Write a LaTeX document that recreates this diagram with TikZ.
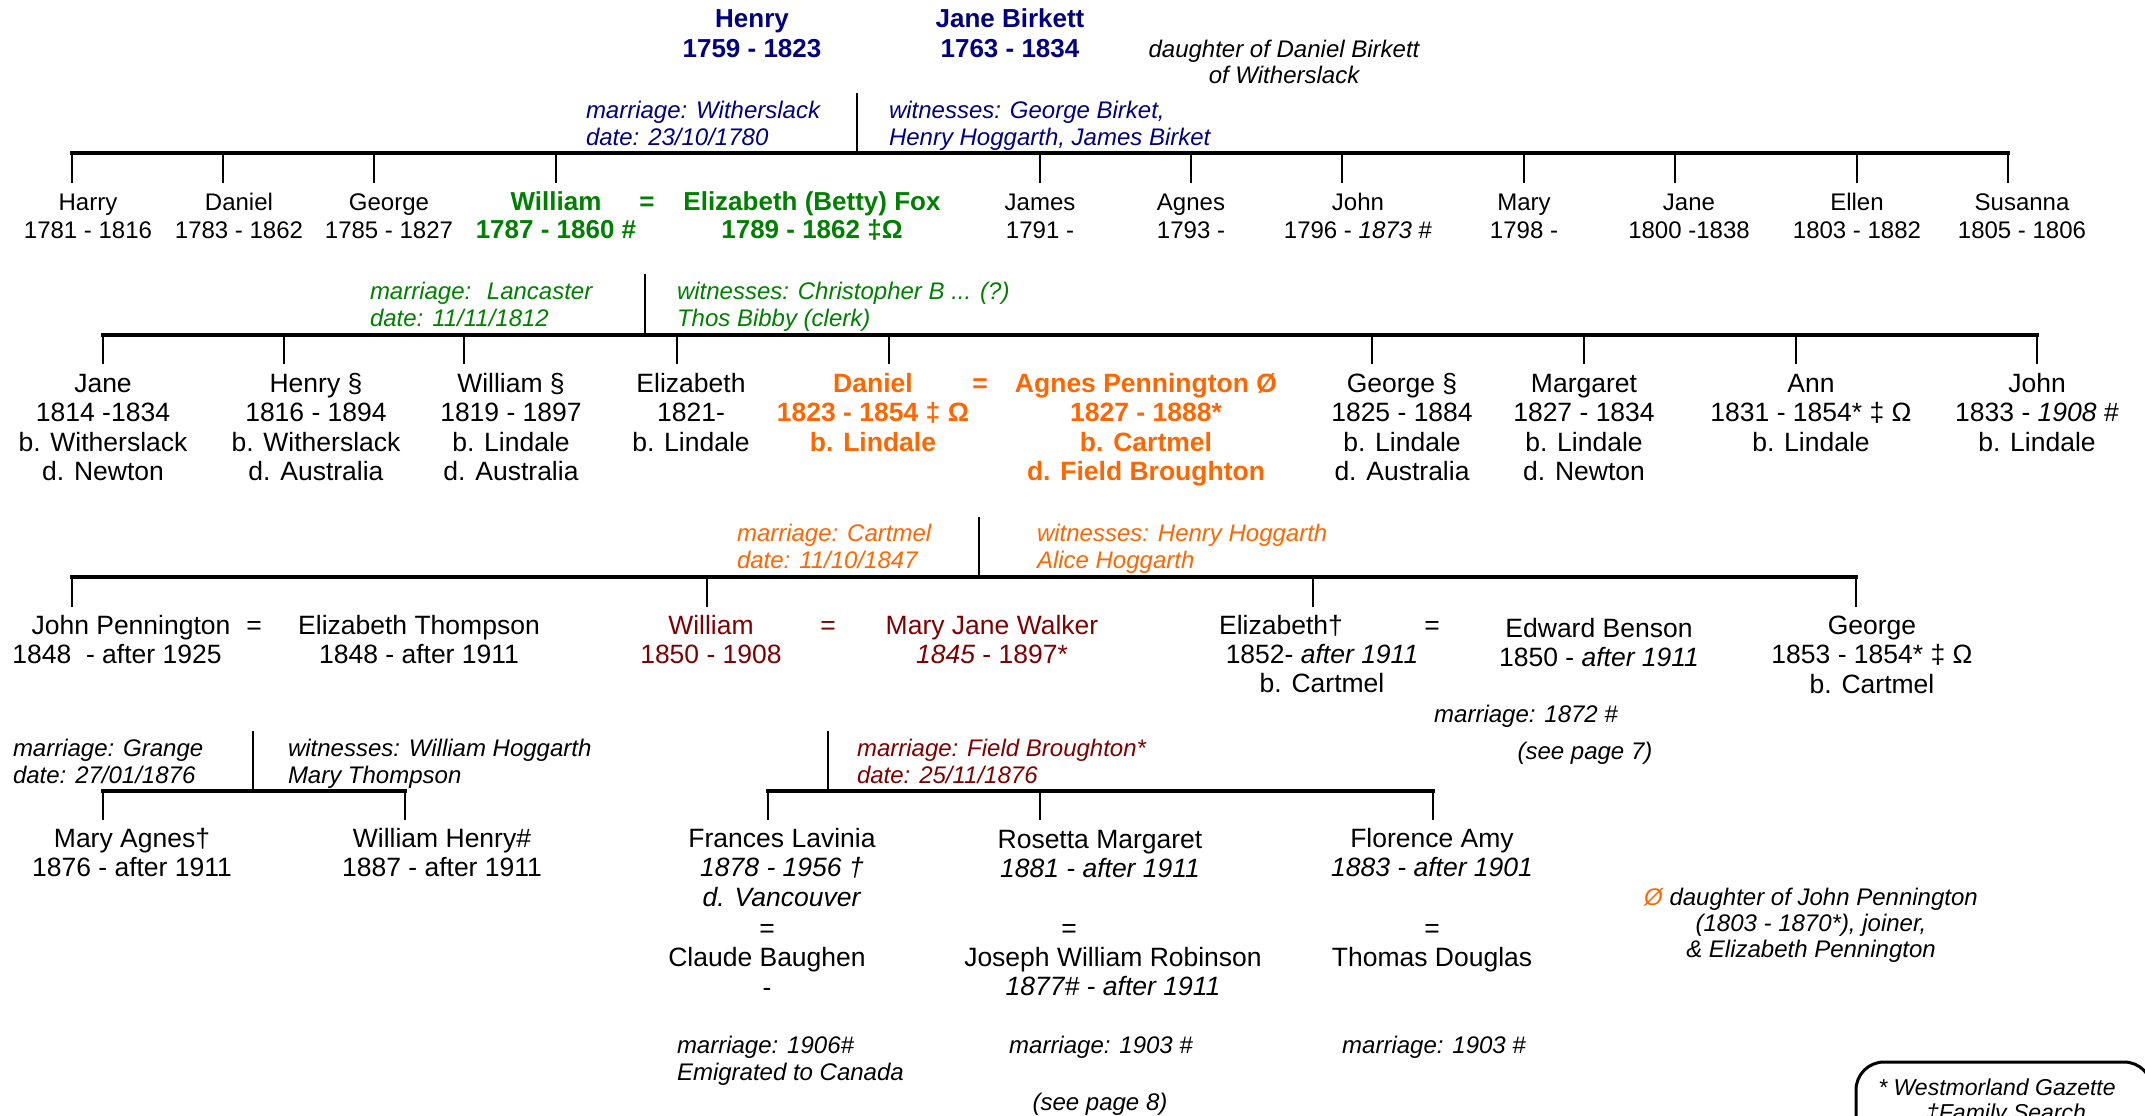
\documentclass[tikz,border=0pt]{standalone}
\usepackage{fontspec}
\setmainfont{Liberation Sans}
\definecolor{navy}{RGB}{0,0,128}
\definecolor{grn}{RGB}{0,128,0}
\definecolor{org}{RGB}{255,102,0}
\definecolor{dred}{RGB}{128,0,0}
\newcommand{\mlc}[1]{\begin{tabular}[t]{@{}c@{}}#1\end{tabular}}
\newcommand{\mll}[1]{\begin{tabular}[t]{@{}l@{}}#1\end{tabular}}
\tikzset{
 every node/.style={inner sep=0pt, outer sep=0pt, anchor=base},
 r0/.style={font=\fontsize{24}{28}\selectfont},
 r0b/.style={font=\fontsize{26}{28}\selectfont\bfseries, text=grn},
 topn/.style={font=\fontsize{26}{30}\selectfont\bfseries, text=navy},
 pr/.style={font=\fontsize{26.5}{29.5}\selectfont},
 prb/.style={font=\fontsize{26.5}{29.5}\selectfont\bfseries, text=org},
 ann/.style={font=\fontsize{24}{27}\selectfont\itshape, anchor=base west},
 annc/.style={font=\fontsize{24}{26}\selectfont\itshape},
 bar/.style={line width=4pt, line cap=rect},
 tick/.style={line width=2.5pt},
}
\begin{document}
\begin{tikzpicture}[x=1pt,y=-1pt]
\useasboundingbox (0,0) rectangle (2145,1116);
\fill[white] (0,0) rectangle (2145,1116);
\clip (0,0) rectangle (2145,1116);

% ---------- generation 0 ----------
\node[topn] (henry) at (752,28) {\mlc{Henry\\1759 - 1823}};
\node[topn] (janeb) at (1010,28) {\mlc{Jane Birkett\\1763 - 1834}};
\node[annc] (dnote) at (1284,58) {\mlc{daughter of Daniel Birkett\\of Witherslack}};
\coordinate (m0top) at (857,93);
\coordinate (m0) at (857,153);
\coordinate (b0l) at (72,153);
\coordinate (b0r) at (2008,153);
\node[ann,text=navy] (m0a) at (586,118) {\mll{marriage: Witherslack\\date: 23/10/1780}};
\node[ann,text=navy] (m0w) at (889,118) {\mll{witnesses: George Birket,\\Henry Hoggarth, James Birket}};
\draw[tick] (m0top) -- (m0);
\draw[bar] (b0l) -- (b0r);
\foreach \x/\n in {72/a,223/b,374/c,556/d,1040/e,1191/f,1342/g,1524/h,1675/i,1857/j,2008/k}{
  \coordinate (t0\n) at (\x,183);
  \draw[tick] (t0\n |- b0l) -- (t0\n);
}
\node[r0] (harry) at (88,210) {\mlc{Harry\\1781 - 1816}};
\node[r0] (daniel0) at (239,210) {\mlc{Daniel\\1783 - 1862}};
\node[r0] (george0) at (389,210) {\mlc{George\\1785 - 1827}};
\node[r0b] (william0) at (556,210) {\mlc{William\\1787 - 1860 \#}};
\node[r0b] (eq0) at (647,210) {=};
\node[r0b] (betty) at (812,210) {\mlc{Elizabeth (Betty) Fox\\1789 - 1862 ‡Ω}};
\node[r0] (james) at (1040,210) {\mlc{James\\1791 -}};
\node[r0] (agnes0) at (1191,210) {\mlc{Agnes\\1793 -}};
\node[r0] (john0) at (1358,210) {\mlc{John\\1796 - \textit{1873} \#}};
\node[r0] (mary0) at (1524,210) {\mlc{Mary\\1798 -}};
\node[r0] (jane0) at (1689,210) {\mlc{Jane\\1800 -1838}};
\node[r0] (ellen) at (1857,210) {\mlc{Ellen\\1803 - 1882}};
\node[r0] (susanna) at (2022,210) {\mlc{Susanna\\1805 - 1806}};

% ---------- generation 1 ----------
\coordinate (m1top) at (645,274);
\coordinate (m1) at (645,335);
\coordinate (b1l) at (103,335);
\coordinate (b1r) at (2037,335);
\node[ann,text=grn] (m1a) at (370,299) {\mll{marriage:~ Lancaster\\date: 11/11/1812}};
\node[ann,text=grn] (m1w) at (677,299) {\mll{witnesses: Christopher B ... (?)\\Thos Bibby (clerk)}};
\draw[tick] (m1top) -- (m1);
\draw[bar] (b1l) -- (b1r);
\foreach \x/\n in {103/a,284/b,464/c,677/d,889/e,1372/f,1584/g,1796/h,2037/i}{
  \coordinate (t1\n) at (\x,364);
  \draw[tick] (t1\n |- b1l) -- (t1\n);
}
\node[pr] (jane1) at (103,392) {\mlc{Jane\\1814 -1834\\b. Witherslack\\d. Newton}};
\node[pr] (henry1) at (316,392) {\mlc{Henry §\\1816 - 1894\\b. Witherslack\\d. Australia}};
\node[pr] (william1) at (511,392) {\mlc{William §\\1819 - 1897\\b. Lindale\\d. Australia}};
\node[pr] (eliz1) at (691,392) {\mlc{Elizabeth\\1821-\\b. Lindale}};
\node[prb] (daniel1) at (873,392) {\mlc{Daniel\\1823 - 1854 ‡ Ω\\b. Lindale}};
\node[prb] (eq1) at (980,392) {=};
\node[prb] (agnesp) at (1146,392) {\mlc{Agnes Pennington Ø\\1827 - 1888*\\b. Cartmel\\d. Field Broughton}};
\node[pr] (george1) at (1402,392) {\mlc{George §\\1825 - 1884\\b. Lindale\\d. Australia}};
\node[pr] (margaret) at (1584,392) {\mlc{Margaret\\1827 - 1834\\b. Lindale\\d. Newton}};
\node[pr] (ann) at (1811,392) {\mlc{Ann\\1831 - 1854* ‡ Ω\\b. Lindale}};
\node[pr] (john1) at (2037,392) {\mlc{John\\1833 - \textit{1908} \#\\b. Lindale}};

% ---------- generation 2 ----------
\coordinate (m2top) at (979,517);
\coordinate (m2) at (979,577);
\coordinate (b2l) at (72,577);
\coordinate (b2r) at (1856,577);
\node[ann,text=org] (m2a) at (737,541) {\mll{marriage: Cartmel\\date: 11/10/1847}};
\node[ann,text=org] (m2w) at (1037,541) {\mll{witnesses: Henry Hoggarth\\Alice Hoggarth}};
\draw[tick] (m2top) -- (m2);
\draw[bar] (b2l) -- (b2r);
\foreach \x/\n in {72/a,707/b,1313/c,1856/d}{
  \coordinate (t2\n) at (\x,607);
  \draw[tick] (t2\n |- b2l) -- (t2\n);
}
\node[pr] (jpa) at (131,634) {John Pennington};
\node[pr] (jpeq) at (254,634) {=};
\node[pr] (jpb) at (117,663) {1848~ - after 1925};
\node[pr] (ethom) at (419,634) {\mlc{Elizabeth Thompson\\1848 - after 1911}};
\node[pr,text=dred] (william2) at (711,634) {\mlc{William\\1850 - 1908}};
\node[pr,text=dred] (eq2) at (828,634) {=};
\node[pr,text=dred] (mjw) at (992,634) {\mlc{Mary Jane Walker\\\textit{1845} - 1897*}};
\node[pr] (eliz2a) at (1281,634) {Elizabeth†};
\node[pr] (eliz2b) at (1322,663) {\mlc{1852- \textit{after 1911}\\b. Cartmel}};
\node[pr] (eq3) at (1432,634) {=};
\node[pr] (benson) at (1599,637) {\mlc{Edward Benson\\1850 - \textit{after 1911}}};
\node[pr] (george2) at (1872,634) {\mlc{George\\1853 - 1854* ‡ Ω\\b. Cartmel}};
\node[annc] (m3a) at (1526,722) {marriage: 1872 \#};
\node[annc] (p7) at (1585,759) {(see page 7)};

% ---------- generation 3, left ----------
\coordinate (m3ltop) at (253,731);
\coordinate (m3l) at (253,791);
\coordinate (b3l) at (103,791);
\coordinate (b3r) at (405,791);
\node[ann] (m3la) at (13,756) {\mll{marriage: Grange\\date: 27/01/1876}};
\node[ann] (m3lw) at (288,756) {\mll{witnesses: William Hoggarth\\Mary Thompson}};
\draw[tick] (m3ltop) -- (m3l);
\draw[bar] (b3l) -- (b3r);
\foreach \x/\n in {103/a,405/b}{
  \coordinate (t3\n) at (\x,820);
  \draw[tick] (t3\n |- b3l) -- (t3\n);
}
\node[pr] (maryagnes) at (132,847) {\mlc{Mary Agnes†\\1876 - after 1911}};
\node[pr] (wh) at (442,847) {\mlc{William Henry\#\\1887 - after 1911}};

% ---------- generation 3, right ----------
\coordinate (m4top) at (828,731);
\coordinate (m4) at (828,791);
\coordinate (b4l) at (768,791);
\coordinate (b4r) at (1433,791);
\node[ann,text=dred] (m4a) at (857,756) {\mll{marriage: Field Broughton*\\date: 25/11/1876}};
\draw[tick] (m4top) -- (m4);
\draw[bar] (b4l) -- (b4r);
\foreach \x/\n in {768/a,1040/b,1433/c}{
  \coordinate (t4\n) at (\x,820);
  \draw[tick] (t4\n |- b4l) -- (t4\n);
}
\node[pr] (frances) at (782,847) {\mlc{Frances Lavinia\\\textit{1878 - 1956 †}\\\textit{d. Vancouver}}};
\node[pr] (claude) at (767,937) {\mlc{=\\Claude Baughen\\-}};
\node[ann] (m5a) at (677,1053) {\mll{marriage: 1906\#\\Emigrated to Canada}};
\node[pr] (rosetta) at (1100,848) {\mlc{Rosetta Margaret\\\textit{1881 - after 1911}}};
\node[pr] (eq5) at (1069,937) {=};
\node[pr] (joseph) at (1113,966) {\mlc{Joseph William Robinson\\\textit{1877\# - after 1911}}};
\node[annc] (m6a) at (1101,1053) {marriage: 1903 \#};
\node[annc] (p8) at (1100,1110) {(see page 8)};
\node[pr] (florence) at (1432,847) {\mlc{Florence Amy\\\textit{1883 - after 1901}}};
\node[pr] (thomas) at (1432,937) {\mlc{=\\Thomas Douglas}};
\node[annc] (m7a) at (1434,1053) {marriage: 1903 \#};

% ---------- notes ----------
\node[annc] (pnote) at (1811,905) {\mlc{{\color{org}Ø} daughter of John Pennington\\(1803 - 1870*), joiner,\\\& Elizabeth Pennington}};
\node[draw, line width=3pt, rounded corners=28pt, minimum width=296pt, minimum height=90pt, anchor=north west] (legend) at (1856,1062) {};
\node[annc, font=\fontsize{23}{25}\selectfont\itshape] (lg1) at (1997,1095) {* Westmorland Gazette};
\node[annc, font=\fontsize{23}{25}\selectfont\itshape] (lg2) at (2006,1120) {‡Family Search};
\end{tikzpicture}
\end{document}
